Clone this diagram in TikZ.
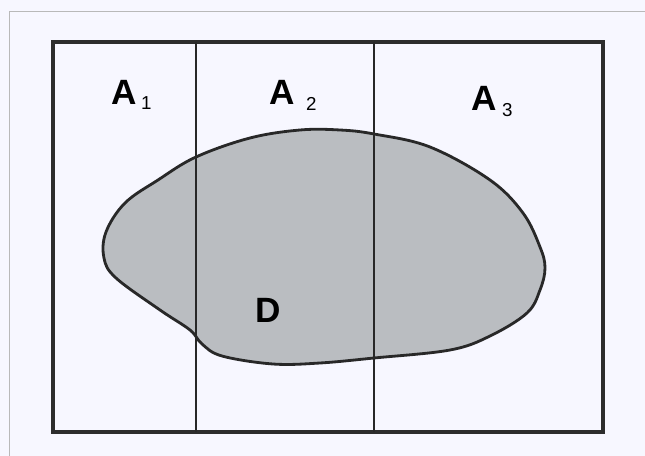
\documentclass[tikz,border=0pt]{standalone}
\usepackage{fontspec}
\setmainfont{Liberation Sans}
\begin{document}
\begin{tikzpicture}[x=0.03cm,y=-0.03cm,
  frameline/.style={draw={rgb,255:red,45;green,45;blue,45}, line width=2.8pt},
  divline/.style={draw={rgb,255:red,40;green,40;blue,40}, line width=1.7pt},
  blobline/.style={draw={rgb,255:red,40;green,40;blue,40}, line width=2.4pt,
    fill={rgb,255:red,186;green,189;blue,193}},
  biglab/.style={inner sep=0pt, anchor=base west, font=\fontsize{30}{30}\selectfont\bfseries},
  sublab/.style={inner sep=0pt, anchor=base west, font=\fontsize{16}{16}\selectfont}]
\useasboundingbox (0,0) rectangle (645,456);
\fill[white!97!blue] (0,0) rectangle (645,456);
% faint page frame
\draw[gray!55, line width=0.8pt] (9,456) -- (9,11) -- (645,11);
% blob D
\draw[blobline] plot[smooth cycle, tension=0.6] coordinates {
  (196,157) (250,138) (300,130) (340,130) (374,134) (430,147) (490,180)
  (523,213) (540,247) (545,268) (540,290) (527,313) (490,336) (450,350)
  (374,358) (320,363) (273,364) (222,356) (202,344) (190,330)
  (160,310) (116,278) (104,258) (106,232) (125,203) (158,180)};
% outer rectangle and dividers
\draw[frameline] (53,42) rectangle (603,432);
\coordinate (t1) at (196,42); \coordinate (b1) at (196,432);
\coordinate (t2) at (374,42); \coordinate (b2) at (374,432);
\draw[divline] (t1) -- (b1);
\draw[divline] (t2) -- (b2);
% labels
\node[biglab] (A1) at (111,105) {A};
\node[sublab] (s1) at (141,110) {1};
\node[biglab] (A2) at (269,105) {A};
\node[sublab] (s2) at (306,111) {2};
\node[biglab] (A3) at (471,111) {A};
\node[sublab] (s3) at (502,117) {3};
\node[biglab] (D) at (255,322) {D};
\end{tikzpicture}
\end{document}
